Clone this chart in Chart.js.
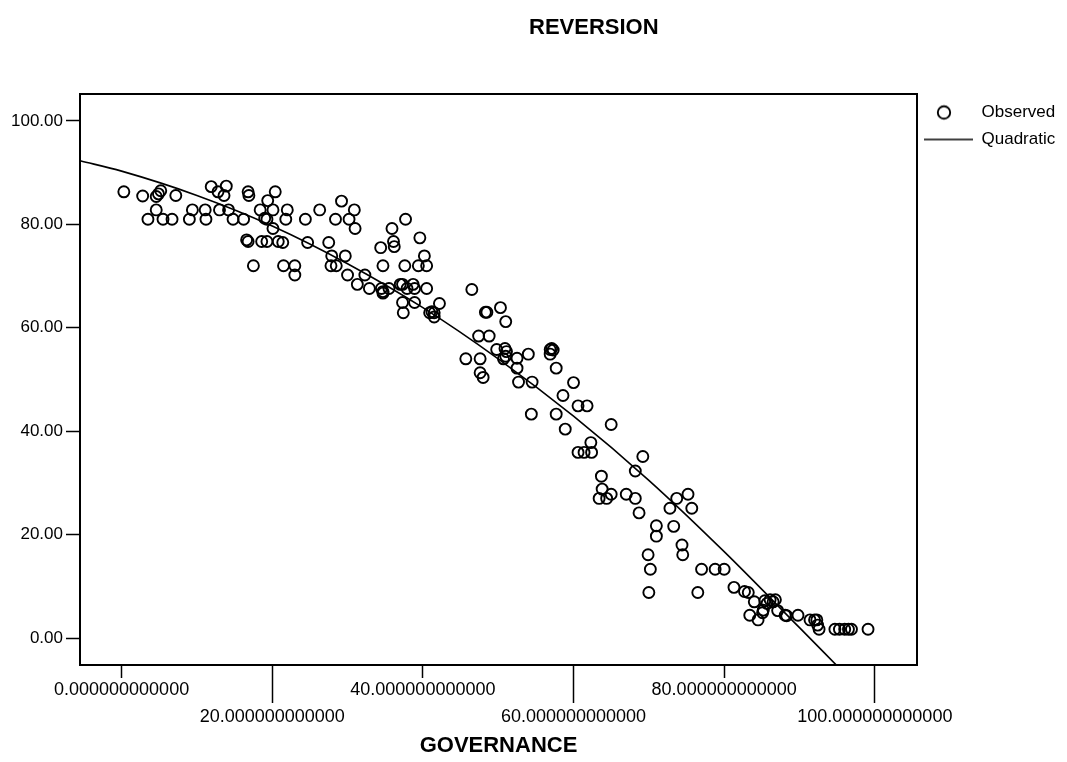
<!DOCTYPE html>
<html>
<head>
<meta charset="utf-8">
<title>REVERSION</title>
<script src="https://cdn.jsdelivr.net/npm/chart.js@4/dist/chart.umd.min.js"></script>
<style>
  html, body { margin: 0; padding: 0; background: #fff; }
  #wrap { position: relative; width: 1067px; height: 762px; overflow: hidden; }
  #plot { position: absolute; left: 0; top: 0; }
  #heading {
    position: absolute; left: 529px; top: 16px; margin: 0;
    font: bold 22px/22px "Liberation Sans", Arial, Helvetica, sans-serif;
    color: #000; white-space: nowrap;
  }
</style>
</head>
<body>
<div id="wrap">
  <canvas id="plot" width="1067" height="762"></canvas>
  <h1 id="heading">REVERSION</h1>
</div>
<script>
// Observed cases: governance score and reversion score
const govX = [
  0.3, 2.8, 3.5, 4.6, 4.9, 5.2, 4.6, 5.5, 6.7, 7.2,
  9.0, 9.4, 11.1, 11.2, 11.9, 12.8, 13.0, 13.6, 13.9, 14.2,
  14.8, 16.2, 16.6, 16.8, 16.8, 16.9, 17.5, 18.4, 18.6, 19.0,
  19.3, 19.3, 19.4, 20.1, 20.1, 20.4, 20.8, 21.4, 21.5, 21.8,
  22.0, 23.0, 23.0, 24.4, 24.7, 26.3, 27.5, 27.9, 27.8, 28.5,
  28.4, 29.2, 29.7, 30.0, 30.2, 30.9, 31.0, 31.3, 32.3, 32.9,
  34.4, 34.7, 34.5, 34.7, 34.7, 35.5, 35.9, 36.1, 36.2, 37.0,
  37.3, 37.3, 37.4, 37.7, 37.6, 37.9, 38.7, 38.9, 38.9, 39.4,
  39.6, 40.2, 40.5, 40.5, 40.9, 41.2, 41.5, 41.5, 42.2, 46.5,
  48.3, 48.5, 50.3, 51.0, 47.4, 48.8, 49.8, 50.9, 51.1, 51.0,
  50.7, 52.5, 54.0, 45.7, 47.6, 47.6, 48.0, 52.5, 52.7, 54.5,
  56.9, 57.1, 57.3, 56.9, 57.7, 60.0, 58.6, 60.6, 61.8, 57.7,
  54.4, 58.9, 65.0, 62.3, 60.6, 61.4, 62.4, 69.2, 68.2, 63.7,
  63.8, 63.4, 64.4, 65.0, 67.0, 68.2, 68.7, 71.0, 71.0, 73.3,
  69.9, 70.2, 70.0, 72.8, 73.7, 75.2, 75.7, 74.4, 74.5, 77.0,
  76.5, 78.8, 80.0, 81.3, 82.7, 83.2, 84.0, 85.4, 85.7, 86.1,
  86.5, 86.8, 85.2, 85.1, 83.4, 84.5, 87.1, 88.1, 88.3, 89.8,
  91.4, 92.0, 92.3, 92.4, 92.6, 94.7, 95.3, 96.0, 96.5, 96.9,
  99.1
];
const revY = [
  86.3, 85.5, 81.0, 85.4, 85.9, 86.5, 82.8, 81.0, 81.0, 85.6,
  81.0, 82.8, 82.8, 81.0, 87.3, 86.3, 82.8, 85.6, 87.4, 82.8,
  81.0, 81.0, 77.0, 76.7, 86.3, 85.6, 72.0, 82.8, 76.7, 81.2,
  81.0, 76.7, 84.6, 82.8, 79.2, 86.3, 76.7, 76.5, 72.0, 81.0,
  82.8, 72.0, 70.2, 81.0, 76.5, 82.8, 76.5, 73.9, 72.0, 72.0,
  81.0, 84.5, 73.9, 70.2, 81.0, 82.8, 79.2, 68.4, 70.2, 67.6,
  75.5, 72.0, 67.6, 67.0, 66.7, 67.6, 79.2, 76.7, 75.7, 68.4,
  68.4, 64.9, 62.9, 81.0, 72.0, 67.6, 68.4, 67.6, 64.9, 72.0,
  77.4, 73.9, 72.0, 67.6, 62.9, 63.1, 62.9, 62.1, 64.7, 67.4,
  63.0, 63.0, 63.9, 61.2, 58.4, 58.4, 55.8, 56.0, 55.4, 54.5,
  54.0, 54.1, 54.9, 54.0, 54.0, 51.3, 50.4, 52.2, 49.5, 49.5,
  55.8, 56.0, 55.7, 54.9, 52.2, 49.4, 46.9, 44.9, 44.9, 43.3,
  43.3, 40.4, 41.3, 37.8, 35.9, 35.9, 35.9, 35.1, 32.3, 31.3,
  28.8, 27.0, 27.0, 27.8, 27.8, 27.0, 24.2, 21.7, 19.7, 21.6,
  16.1, 13.3, 8.8, 25.1, 27.0, 27.8, 25.1, 18.0, 16.1, 13.3,
  8.8, 13.3, 13.3, 9.8, 9.0, 8.8, 7.0, 7.2, 6.7, 7.4,
  7.0, 7.4, 5.4, 4.9, 4.4, 3.5, 5.3, 4.4, 4.3, 4.4,
  3.5, 3.5, 3.5, 2.5, 1.7, 1.7, 1.7, 1.7, 1.7, 1.7,
  1.7
];

// Quadratic fit curve, sampled along governance
const fitX = [-5.5, 0, 10, 20, 30, 40, 50, 60, 70, 80, 90, 95];
const fitY = [92.3, 90.3, 85.6, 79.7, 72.4, 63.9, 54.0, 42.9, 30.5, 16.7, 2.0, -5.4];

// Axes
const xTickValues = [0, 20, 40, 60, 80, 100];
const xTickLabels = ['0.000000000000', '20.000000000000', '40.000000000000',
                     '60.000000000000', '80.000000000000', '100.000000000000'];
const yTickValues = [0, 20, 40, 60, 80, 100];
const yTickLabels = ['0.00', '20.00', '40.00', '60.00', '80.00', '100.00'];
const xRange = [-5.52, 105.6];
const yRange = [-5.22, 105.22];

const observed = govX.map((x, i) => ({ x: x, y: revY[i] }));
const quadratic = fitX.map((x, i) => ({ x: x, y: fitY[i] }));

Chart.defaults.font.family = '"Liberation Sans", Arial, Helvetica, sans-serif';
Chart.defaults.color = '#000';

// Legend markers: open circle and a long line sample
function makeMarker(w, h, draw) {
  const c = document.createElement('canvas');
  c.width = w; c.height = h;
  draw(c.getContext('2d'));
  return c;
}
const circleMark = makeMarker(30, 20, g => {
  g.strokeStyle = '#000'; g.lineWidth = 1.9;
  g.beginPath(); g.arc(9, 10, 6.2, 0, Math.PI * 2); g.stroke();
});
const lineMark = makeMarker(52, 6, g => {
  g.strokeStyle = '#000'; g.lineWidth = 1.6;
  g.beginPath(); g.moveTo(0, 3); g.lineTo(49, 3); g.stroke();
});

const frameAxis = (position) => ({
  type: 'linear',
  position: position,
  min: position === 'top' ? xRange[0] : yRange[0],
  max: position === 'top' ? xRange[1] : yRange[1],
  display: true,
  grid: { drawOnChartArea: false, drawTicks: false },
  ticks: { display: false },
  border: { display: true, color: '#000', width: 2 },
  afterFit: s => { if (position === 'top') s.height = 0; else s.width = 0; }
});

new Chart(document.getElementById('plot'), {
  type: 'scatter',
  data: {
    datasets: [
      {
        label: 'Observed',
        data: observed,
        pointStyle: 'circle',
        pointRadius: 5.5,
        pointHoverRadius: 5.5,
        pointBorderWidth: 1.9,
        borderColor: '#000',
        backgroundColor: 'rgba(0,0,0,0)'
      },
      {
        type: 'line',
        label: 'Quadratic',
        data: quadratic,
        borderColor: '#000',
        borderWidth: 1.6,
        pointRadius: 0,
        fill: false,
        cubicInterpolationMode: 'monotone'
      }
    ]
  },
  options: {
    responsive: false,
    animation: false,
    events: [],
    layout: { padding: { top: 94, right: 10, bottom: 0, left: 0 } },
    plugins: {
      tooltip: { enabled: false },
      title: { display: false },
      legend: {
        position: 'right',
        align: 'start',
        maxWidth: 140,
        labels: {
          usePointStyle: true,
          pointStyleWidth: 46,
          padding: 10,
          color: '#000',
          font: { size: 17 },
          generateLabels: chart =>
            Chart.defaults.plugins.legend.labels.generateLabels(chart).map((item, i) =>
              Object.assign(item, { pointStyle: i === 0 ? circleMark : lineMark, fontColor: '#000' }))
        }
      }
    },
    scales: {
      x: {
        type: 'linear',
        position: 'bottom',
        min: xRange[0],
        max: xRange[1],
        afterBuildTicks: s => { s.ticks = xTickValues.map(v => ({ value: v })); },
        afterFit: s => { s.height = 97; },
        grid: {
          drawOnChartArea: false,
          drawTicks: true,
          tickLength: 38,
          tickWidth: 1.5,
          tickColor: '#000',
          tickBorderDash: c => (c.index % 2 === 0 ? [12, 60] : [])
        },
        border: { display: true, color: '#000', width: 2 },
        ticks: {
          autoSkip: false,
          maxRotation: 0,
          minRotation: 0,
          padding: -26,
          color: '#000',
          font: { size: 18, lineHeight: 1.5 },
          callback: (v, i) => (i % 2 ? ['', xTickLabels[i]] : xTickLabels[i])
        },
        title: {
          display: true,
          text: 'GOVERNANCE',
          color: '#000',
          font: { size: 22, weight: 'bold' },
          padding: { top: 0, bottom: 3 }
        }
      },
      y: {
        type: 'linear',
        position: 'left',
        min: yRange[0],
        max: yRange[1],
        afterBuildTicks: s => { s.ticks = yTickValues.map(v => ({ value: v })); },
        afterFit: s => { s.width = 80; },
        grid: {
          drawOnChartArea: false,
          drawTicks: true,
          tickLength: 14,
          tickWidth: 1.5,
          tickColor: '#000'
        },
        border: { display: true, color: '#000', width: 2 },
        ticks: {
          padding: 3,
          color: '#000',
          font: { size: 17 },
          callback: (v, i) => yTickLabels[i]
        }
      },
      x2: frameAxis('top'),
      y2: frameAxis('right')
    }
  }
});
</script>
</body>
</html>
